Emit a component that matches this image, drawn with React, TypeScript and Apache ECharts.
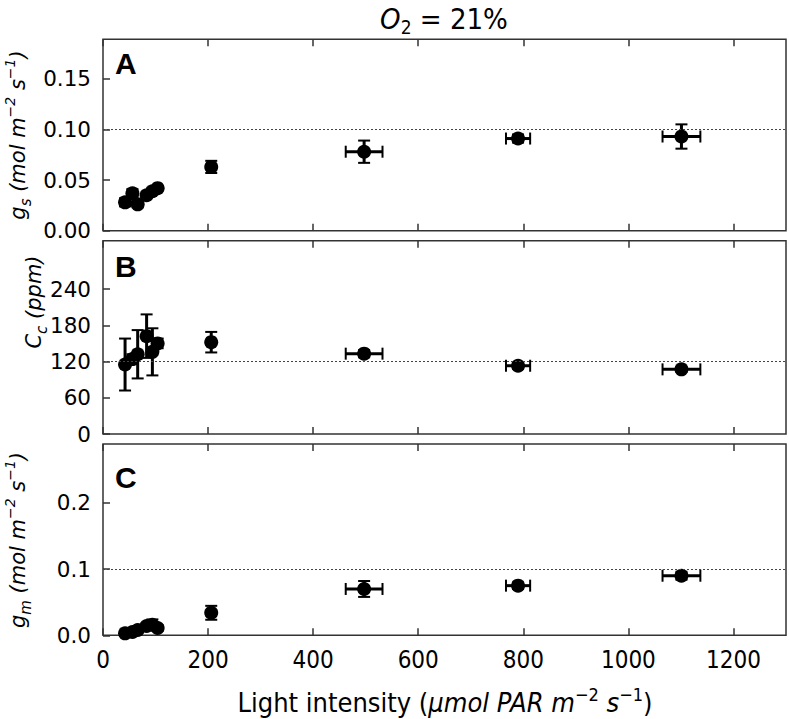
import React, { useEffect, useRef } from "react";
import * as echarts from "echarts";

// ---- data ----
const lightIntensity = [42, 56, 66, 83, 94, 104, 206, 497, 790, 1101];
const lightErr = [0, 0, 0, 0, 0, 0, 0, 35, 23, 36];
const gsValues = [0.028, 0.037, 0.026, 0.035, 0.039, 0.042, 0.063, 0.078, 0.091, 0.093];
const gsErr = [0.004, 0.004, 0.003, 0.003, 0.003, 0.002, 0.006, 0.011, 0.004, 0.012];
const ccValues = [115, 124, 132, 162, 136, 150, 152, 133, 113, 107];
const ccErr = [43, 8, 40, 36, 39, 8, 17, 6, 5, 4];
const gmValues = [0.003, 0.005, 0.008, 0.014, 0.016, 0.011, 0.034, 0.07, 0.075, 0.09];
const gmErr = [0.002, 0.002, 0.003, 0.004, 0.008, 0.004, 0.0105, 0.012, 0.005, 0.006];

const xTicks = [0, 200, 400, 600, 800, 1000, 1200];
const gsTicks = [0, 0.05, 0.1, 0.15];
const ccTicks = [0, 60, 120, 180, 240];
const gmTicks = [0, 0.1, 0.2];
const refLines = [0.1, 120, 0.1];
const panelLetters = ["A", "B", "C"];

const COND = '"DejaVu Sans Condensed", "Liberation Sans Narrow", "DejaVu Sans", sans-serif';
const DV = '"DejaVu Sans", sans-serif';

export default function App() {
  const ref = useRef<HTMLDivElement>(null);
  useEffect(() => {
    if (!ref.current) return;
    const chart = echarts.init(ref.current, undefined, { renderer: "svg" });

    const tops = [39.3, 240.7, 444];
    const heights = [191.4, 193.3, 191.3];
    const yMax = [0.189, 320, 0.289];
    const yTickSets = [gsTicks, ccTicks, gmTicks];
    const yFmt = [
      (v: number) => v.toFixed(2),
      (v: number) => String(Math.round(v)),
      (v: number) => v.toFixed(1),
    ];
    const yVals = [gsValues, ccValues, gmValues];
    const yErrs = [gsErr, ccErr, gmErr];
    const letterOffsets = [24.5, 26, 33];

    const tickStyle = { color: "#333", width: 1.5 };

    const grids = tops.map((t, i) => ({
      left: 103,
      top: t,
      width: 683,
      height: heights[i],
      show: true,
      borderColor: "#333",
      borderWidth: 1.5,
      backgroundColor: "transparent",
    }));

    const xAxes: any[] = [];
    const yAxes: any[] = [];
    for (let i = 0; i < 3; i++) {
      for (const pos of ["bottom", "top"]) {
        xAxes.push({
          type: "value",
          gridIndex: i,
          position: pos,
          min: 0,
          max: 1300,
          axisLine: { show: false },
          splitLine: { show: false },
          axisTick: { show: true, inside: true, length: 7, lineStyle: tickStyle, customValues: xTicks },
          axisLabel: {
            show: i === 2 && pos === "bottom",
            customValues: xTicks,
            formatter: (v: number) => String(Math.round(v)),
            fontSize: 24,
            fontFamily: COND,
            color: "#000",
            margin: 13,
          },
        });
      }
      yAxes.push({
        type: "value",
        gridIndex: i,
        min: 0,
        max: yMax[i],
        axisLine: { show: false },
        splitLine: { show: false },
        axisTick: { show: true, inside: true, length: 7, lineStyle: tickStyle, customValues: yTickSets[i] },
        axisLabel: {
          customValues: yTickSets[i],
          formatter: yFmt[i],
          fontSize: 21.5,
          fontFamily: DV,
          color: "#000",
          margin: 12,
        },
      });
    }

    const series: any[] = [];
    for (let i = 0; i < 3; i++) {
      const rows = lightIntensity.map((x, k) => [x, yVals[i][k], lightErr[k], yErrs[i][k]]);
      series.push({
        type: "custom",
        xAxisIndex: i * 2,
        yAxisIndex: i,
        encode: { x: 0, y: 1 },
        data: rows,
        z: 3,
        renderItem: (params: any, api: any) => {
          const x = api.value(0);
          const y = api.value(1);
          const xe = api.value(2);
          const ye = api.value(3);
          const children: any[] = [];
          const bar = { stroke: "#000", lineWidth: 3 };
          const cap = { stroke: "#000", lineWidth: 2 };
          const h = 6;
          if (xe > 0) {
            const l = api.coord([x - xe, y]);
            const r = api.coord([x + xe, y]);
            children.push({ type: "line", shape: { x1: l[0], y1: l[1], x2: r[0], y2: r[1] }, style: bar });
            children.push({ type: "line", shape: { x1: l[0], y1: l[1] - h, x2: l[0], y2: l[1] + h }, style: cap });
            children.push({ type: "line", shape: { x1: r[0], y1: r[1] - h, x2: r[0], y2: r[1] + h }, style: cap });
          }
          if (ye > 0) {
            const t = api.coord([x, y + ye]);
            const b = api.coord([x, y - ye]);
            children.push({ type: "line", shape: { x1: t[0], y1: t[1], x2: b[0], y2: b[1] }, style: bar });
            children.push({ type: "line", shape: { x1: t[0] - h, y1: t[1], x2: t[0] + h, y2: t[1] }, style: cap });
            children.push({ type: "line", shape: { x1: b[0] - h, y1: b[1], x2: b[0] + h, y2: b[1] }, style: cap });
          }
          return { type: "group", children };
        },
      });
      series.push({
        type: "scatter",
        xAxisIndex: i * 2,
        yAxisIndex: i,
        data: lightIntensity.map((x, k) => [x, yVals[i][k]]),
        symbol: "circle",
        symbolSize: 14,
        itemStyle: { color: "#000", opacity: 1 },
        z: 4,
        markLine: {
          silent: true,
          symbol: "none",
          label: { show: false },
          lineStyle: { type: [2, 2], color: "#444", width: 1 },
          data: [{ yAxis: refLines[i] }],
        },
      });
    }

    const ital = (size: number, fam: string) => ({ fontSize: size, fontFamily: fam, fontStyle: "italic", fill: "#000", lineHeight: 34, verticalAlign: "middle" });
    const up = (size: number, fam: string) => ({ fontSize: size, fontFamily: fam, fill: "#000", lineHeight: 34, verticalAlign: "middle" });
    const sup = (size: number, fam: string, italic: boolean) => ({ fontSize: size, fontFamily: fam, fontStyle: italic ? "italic" : "normal", fill: "#000", lineHeight: 34, verticalAlign: "top" });
    const sub = (size: number, fam: string, italic: boolean) => ({ fontSize: size, fontFamily: fam, fontStyle: italic ? "italic" : "normal", fill: "#000", lineHeight: 34, verticalAlign: "bottom" });

    const yRich = {
      i: { ...ital(21, DV), lineHeight: 30 },
      sup: { ...sup(14, DV, true), lineHeight: 30 },
      sub: { ...sub(15, DV, true), lineHeight: 30 },
    };

    const graphic: any[] = [];
    panelLetters.forEach((L, i) => {
      graphic.push({
        type: "text",
        x: 115,
        y: tops[i] + letterOffsets[i],
        style: { text: L, fontSize: 30, fontWeight: "bold", fontFamily: '"Liberation Sans", Arial, sans-serif', fill: "#000", align: "left", verticalAlign: "middle" },
      });
    });
    const yLabels = [
      { text: "{i|g}{sub|s}{i| (mol m}{sup|−2}{i| s}{sup|−1}{i|)}", x: 18, y: 135 },
      { text: "{i|C}{sub|c}{i| (ppm)}", x: 34, y: 302 },
      { text: "{i|g}{sub|m}{i| (mol m}{sup|−2}{i| s}{sup|−1}{i|)}", x: 18, y: 540 },
    ];
    yLabels.forEach((yl) => {
      graphic.push({
        type: "text",
        x: yl.x,
        y: yl.y,
        rotation: Math.PI / 2,
        style: { text: yl.text, rich: yRich, align: "center", verticalAlign: "middle", fontSize: 21, fontFamily: DV },
      });
    });
    graphic.push({
      type: "text",
      x: 444,
      y: 19,
      style: {
        text: "{i|O}{sub|2}{u| = 21%}",
        rich: { i: ital(29, COND), sub: sub(19, COND, false), u: up(29, COND) },
        align: "center",
        verticalAlign: "middle",
        fontSize: 29,
        fontFamily: COND,
      },
    });
    graphic.push({
      type: "text",
      x: 445,
      y: 702,
      style: {
        text: "{u|Light intensity (}{i|μmol PAR m}{sup|−2}{i| s}{sup|−1}{u|)}",
        rich: { i: ital(27, COND), u: up(27, COND), sup: sup(18, COND, false) },
        align: "center",
        verticalAlign: "middle",
        fontSize: 27,
        fontFamily: COND,
      },
    });

    chart.setOption({
      animation: false,
      backgroundColor: "#fff",
      grid: grids,
      xAxis: xAxes,
      yAxis: yAxes,
      series,
      graphic,
    });
    return () => chart.dispose();
  }, []);
  return <div ref={ref} style={{ position: "fixed", left: 0, top: 0, width: 789, height: 719 }} />;
}
